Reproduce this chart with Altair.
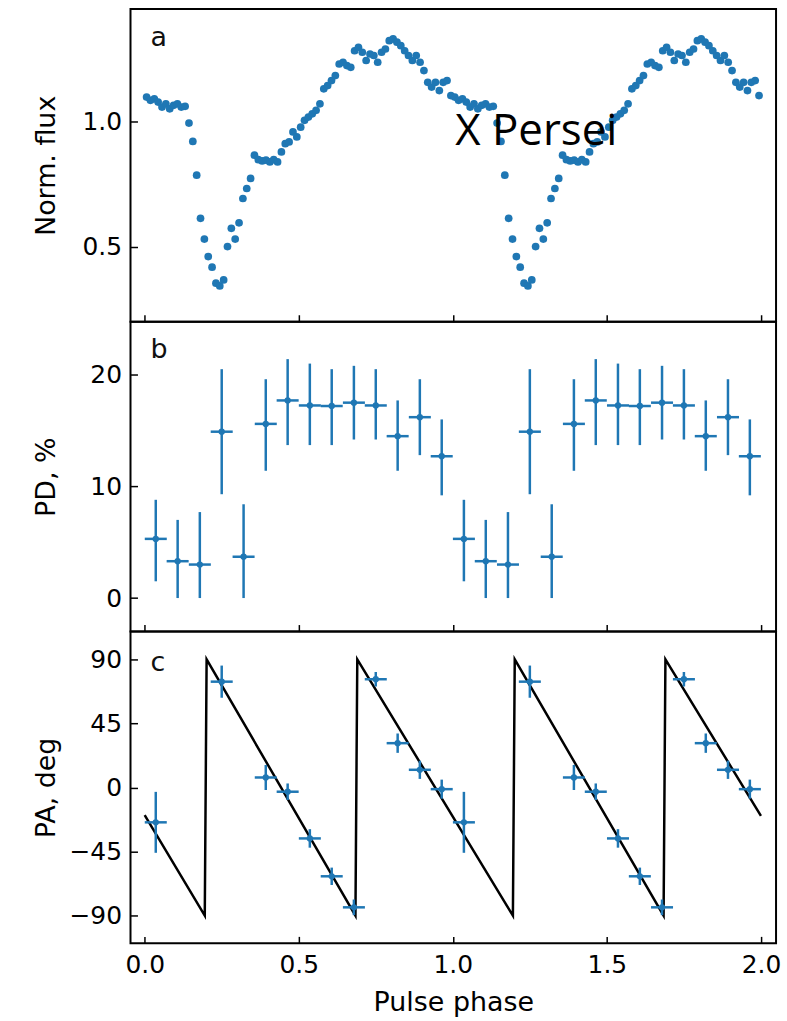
import altair as alt
import pandas as pd

# ---------------- data ----------------
# panel a: normalised flux, 80 phase bins per cycle (shown twice)
flux_bins = 80
flux_cycle = [1.097, 1.084, 1.090, 1.077, 1.057, 1.070, 1.050, 1.064, 1.070, 1.057, 1.060,
              0.993, 0.920, 0.785, 0.613, 0.530, 0.460, 0.418, 0.354, 0.343, 0.367,
              0.500, 0.573, 0.530, 0.595, 0.692, 0.732, 0.772, 0.865, 0.847, 0.842,
              0.845, 0.838, 0.847, 0.838,
              0.878, 0.911, 0.918, 0.958, 0.938, 0.977, 1.004, 1.017, 1.030, 1.044, 1.070,
              1.130, 1.143, 1.163, 1.183, 1.229, 1.236, 1.223, 1.216, 1.282, 1.296,
              1.276, 1.243, 1.269, 1.263, 1.236, 1.276, 1.289, 1.322, 1.329, 1.316,
              1.302, 1.282, 1.263, 1.243, 1.263, 1.236, 1.203, 1.156, 1.137, 1.156,
              1.123, 1.156, 1.163, 1.103]

# panel b: polarization degree (%)
pd_phase = [0.036, 0.107, 0.179, 0.250, 0.321, 0.393, 0.464, 0.536, 0.607, 0.679,
            0.750, 0.821, 0.893, 0.964]
pd_val = [5.3, 3.3, 3.0, 14.9, 3.7, 15.6, 17.7, 17.25, 17.2, 17.5, 17.25, 14.5, 16.2, 12.7]
pd_lo = [1.5, 0.0, 0.0, 9.3, 0.0, 11.4, 13.7, 13.7, 13.7, 14.2, 14.2, 11.4, 12.8, 9.2]
pd_hi = [8.8, 7.0, 7.7, 20.5, 8.4, 19.6, 21.4, 21.0, 20.5, 20.8, 20.5, 17.7, 19.6, 16.0]

# panel c: polarization angle (deg)
pa_phase = [0.036, 0.250, 0.393, 0.464, 0.536, 0.607, 0.679, 0.750, 0.821, 0.893, 0.964]
pa_val = [-24.5, 74.3, 7.0, -3.0, -35.8, -62.4, -84.2, 76.0, 31.1, 12.4, -1.2]
pa_err = [21.4, 11.3, 8.8, 5.8, 6.5, 6.1, 5.5, 5.1, 6.8, 6.4, 6.7]

# model PA curve (sawtooth)
model_phase = [0.0, 0.195, 0.201, 0.684, 0.690, 1.195, 1.201, 1.684, 1.690, 2.0]
model_pa = [-19.5, -90, 90, -90, 90, -90, 90, -90, 90, -20]

half_bin = 1.0 / 28  # half width of the 14 polarimetric phase bins
cycles = [0, 1]

# ---------------- tables ----------------
flux_df = pd.DataFrame({
    "phase": [c + (i + 0.5) / flux_bins for c in cycles for i in range(flux_bins)],
    "flux": flux_cycle * len(cycles),
})

pd_df = pd.DataFrame({
    "phase": [c + p for c in cycles for p in pd_phase],
    "val": pd_val * len(cycles),
    "lo": pd_lo * len(cycles),
    "hi": pd_hi * len(cycles),
})
pd_df["plo"] = pd_df["phase"] - half_bin
pd_df["phi"] = pd_df["phase"] + half_bin

pa_df = pd.DataFrame({
    "phase": [c + p for c in cycles for p in pa_phase],
    "val": pa_val * len(cycles),
    "err": pa_err * len(cycles),
})
pa_df["lo"] = pa_df["val"] - pa_df["err"]
pa_df["hi"] = pa_df["val"] + pa_df["err"]
pa_df["plo"] = pa_df["phase"] - half_bin
pa_df["phi"] = pa_df["phase"] + half_bin

model_df = pd.DataFrame({"phase": model_phase, "pa": model_pa,
                         "order": list(range(len(model_phase)))})

# ---------------- styling ----------------
BLUE = "#1f77b4"
FONT = "DejaVu Sans"
W = 648
HA, HB, HC = 314, 311, 313
TITLE_X = -84
x_ticks = [0, 0.5, 1.0, 1.5, 2.0]
x_scale = alt.Scale(domain=[-0.046, 2.049], nice=False, zero=False)


def x_main(field, labels, title=None):
    return alt.X(field, scale=x_scale, title=title,
                 axis=alt.Axis(values=x_ticks, format=".1f", labels=labels, ticks=False,
                               domain=False, grid=False, labelPadding=9, titlePadding=12))


def y_main(field, scale, values, fmt, title, H):
    return alt.Y(field, scale=scale, title=title,
                 axis=alt.Axis(values=values, format=fmt, ticks=False, domain=False, grid=False,
                               labelPadding=9, titleX=TITLE_X, titleY=H / 2,
                               titleAlign="center", titleBaseline="middle"))


def tick_layer(data, xf, yf, yscale, yvalues, H):
    return alt.Chart(data).mark_point(opacity=0).encode(
        x=alt.X(xf, scale=x_scale, title=None,
                axis=alt.Axis(orient="top", offset=-H, values=x_ticks, labels=False,
                              domain=False, grid=False, tickSize=7, tickWidth=1.5,
                              tickColor="black")),
        y=alt.Y(yf, scale=yscale, title=None,
                axis=alt.Axis(orient="right", offset=-W, values=yvalues, labels=False,
                              domain=False, grid=False, tickSize=7, tickWidth=1.5,
                              tickColor="black")),
    )


def letter(txt, y):
    return alt.Chart(pd.DataFrame({"t": [txt]})).mark_text(
        font=FONT, fontSize=27, align="left", baseline="alphabetic", color="#111111"
    ).encode(text="t:N", x=alt.value(20), y=alt.value(y))


# ---------------- panel a ----------------
ya_scale = alt.Scale(domain=[0.20, 1.449], nice=False, zero=False)
pa_a = alt.Chart(flux_df).mark_circle(size=60, color=BLUE, opacity=1).encode(
    x=x_main("phase:Q", False),
    y=y_main("flux:Q", ya_scale, [0.5, 1.0], ".1f", "Norm. flux", HA),
)
persei = alt.Chart(pd.DataFrame({"t": ["X Persei"]})).mark_text(
    font="Open Sans", fontSize=44, align="left", baseline="alphabetic", color="black"
).encode(text="t:N", x=alt.value(326), y=alt.value(137))
panel_a = alt.layer(
    pa_a, tick_layer(flux_df, "phase:Q", "flux:Q", ya_scale, [0.5, 1.0], HA),
    letter("a", 37), persei
).resolve_axis(x="independent", y="independent").properties(width=W, height=HA)

# ---------------- panel b ----------------
yb_scale = alt.Scale(domain=[-3.0, 24.75], nice=False, zero=False)
base_b = alt.Chart(pd_df)
b_vert = base_b.mark_rule(color=BLUE, strokeWidth=2.5).encode(
    x=x_main("phase:Q", False),
    y=y_main("lo:Q", yb_scale, [0, 10, 20], "d", "PD, %", HB),
    y2="hi:Q",
)
b_hor = base_b.mark_rule(color=BLUE, strokeWidth=2.5).encode(
    x=alt.X("plo:Q", scale=x_scale, axis=None), x2="phi:Q",
    y=alt.Y("val:Q", scale=yb_scale, axis=None),
)
b_pt = base_b.mark_circle(size=40, color=BLUE, opacity=1).encode(
    x=alt.X("phase:Q", scale=x_scale, axis=None),
    y=alt.Y("val:Q", scale=yb_scale, axis=None),
)
panel_b = alt.layer(
    b_vert, b_hor, b_pt, tick_layer(pd_df, "phase:Q", "val:Q", yb_scale, [0, 10, 20], HB),
    letter("b", 36)
).resolve_axis(x="independent", y="independent").properties(width=W, height=HB)

# ---------------- panel c ----------------
yc_scale = alt.Scale(domain=[-109.5, 109.5], nice=False, zero=False)
c_vals = [-90, -45, 0, 45, 90]
model = alt.Chart(model_df).mark_line(color="black", strokeWidth=2.5).encode(
    x=x_main("phase:Q", True, "Pulse phase"),
    y=y_main("pa:Q", yc_scale, c_vals, "d", "PA, deg", HC),
    order="order:Q",
)
base_c = alt.Chart(pa_df)
c_vert = base_c.mark_rule(color=BLUE, strokeWidth=2.5).encode(
    x=alt.X("phase:Q", scale=x_scale, axis=None),
    y=alt.Y("lo:Q", scale=yc_scale, axis=None), y2="hi:Q",
)
c_hor = base_c.mark_rule(color=BLUE, strokeWidth=2.5).encode(
    x=alt.X("plo:Q", scale=x_scale, axis=None), x2="phi:Q",
    y=alt.Y("val:Q", scale=yc_scale, axis=None),
)
c_pt = base_c.mark_circle(size=40, color=BLUE, opacity=1).encode(
    x=alt.X("phase:Q", scale=x_scale, axis=None),
    y=alt.Y("val:Q", scale=yc_scale, axis=None),
)
panel_c = alt.layer(
    model, c_vert, c_hor, c_pt,
    tick_layer(pa_df, "phase:Q", "val:Q", yc_scale, c_vals, HC),
    letter("c", 40)
).resolve_axis(x="independent", y="independent").properties(width=W, height=HC)

chart = alt.vconcat(panel_a, panel_b, panel_c, spacing=0, bounds="flush").properties(
    padding={"left": 32, "top": 6, "right": 5, "bottom": 5},
    background="white",
).configure_view(
    stroke="black", strokeWidth=2
).configure_axis(
    labelFont=FONT, labelFontSize=25, labelColor="black",
    titleFont=FONT, titleFontSize=27, titleColor="black", titleFontWeight="normal"
)

chart.save("out.html", embed_options={"renderer": "svg", "actions": False})
